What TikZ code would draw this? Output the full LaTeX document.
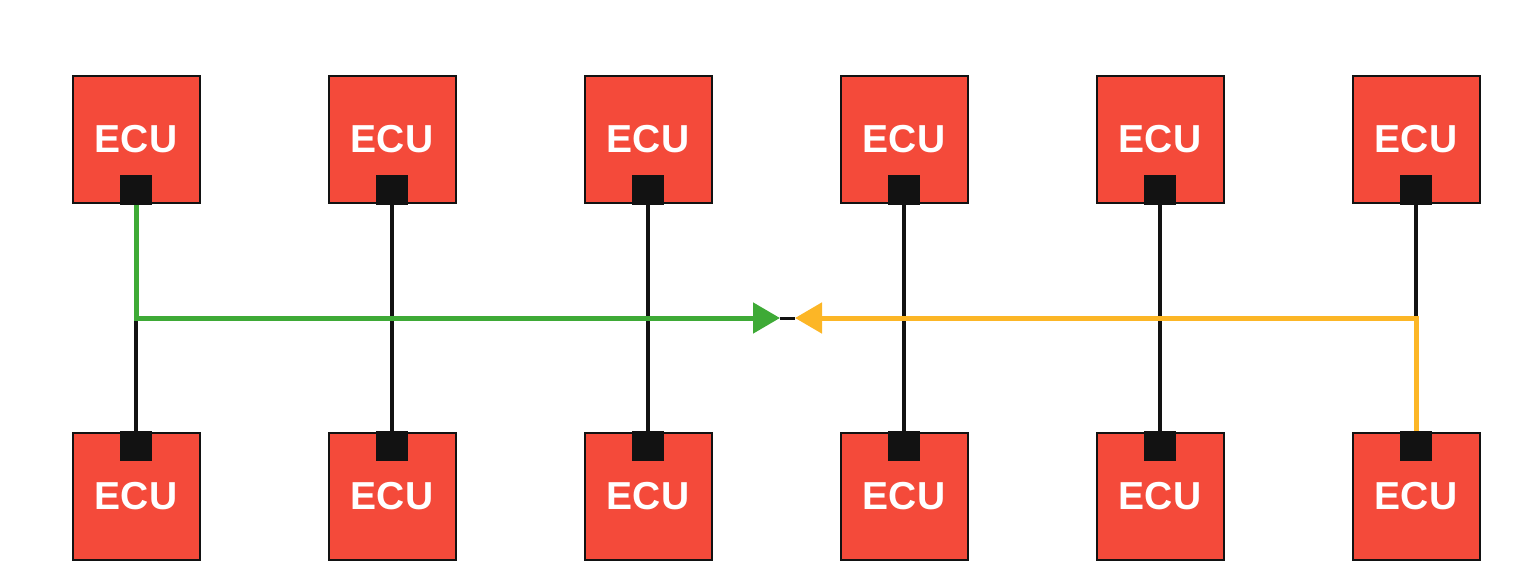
\documentclass[tikz,border=0pt]{standalone}
\usepackage{fontspec}
\setmainfont{Liberation Sans}
\usetikzlibrary{arrows.meta,backgrounds}
\definecolor{ecured}{RGB}{244,74,58}
\definecolor{portblack}{RGB}{18,18,18}
\definecolor{busgreen}{RGB}{62,170,54}
\definecolor{busorange}{RGB}{252,182,38}
\tikzset{
  ecu/.style={draw=portblack, line width=2pt, fill=ecured, minimum size=127pt, inner sep=0pt, text=white, font=\fontsize{39}{39}\selectfont\bfseries},
  port/.style={fill=portblack, minimum width=32pt, minimum height=30pt, inner sep=0pt},
  wire/.style={draw=portblack, line width=4pt},
  greenline/.style={draw=busgreen, line width=5pt, -{Triangle[length=27pt,width=30pt]}},
  orangeline/.style={draw=busorange, line width=5pt, -{Triangle[length=27pt,width=30pt]}},
}
\begin{document}
\begin{tikzpicture}[x=1pt,y=-1pt]
\useasboundingbox (0,0) rectangle (1513,583);
\foreach \i in {1,...,6}{
  \pgfmathsetmacro{\xx}{136+256*(\i-1)}
  \node[ecu] (t\i) at (\xx,139.5) {ECU};
  \node[ecu] (b\i) at (\xx,496.5) {ECU};
  \coordinate (j\i) at (\xx,318);
  \node[port, anchor=south] (tp\i) at ([yshift=-1pt]t\i.south) {};
  \node[port, anchor=north] (bp\i) at ([yshift=1pt]b\i.north) {};
}
\coordinate (gl) at (780,318);
\coordinate (ol) at (795,318);
\begin{scope}[on background layer]
\foreach \i in {2,...,5}{
  \draw[wire] (tp\i.center) -- (bp\i.center);
}
\draw[wire] (j1) -- (bp1.center);
\draw[wire] (tp6.center) -- (j6);
\draw[draw=portblack, line width=3pt] (gl) -- (ol);
\draw[greenline] (tp1.center) -- (j1) -- (gl);
\draw[orangeline] (bp6.center) -- (j6) -- (ol);
\end{scope}
\end{tikzpicture}
\end{document}
